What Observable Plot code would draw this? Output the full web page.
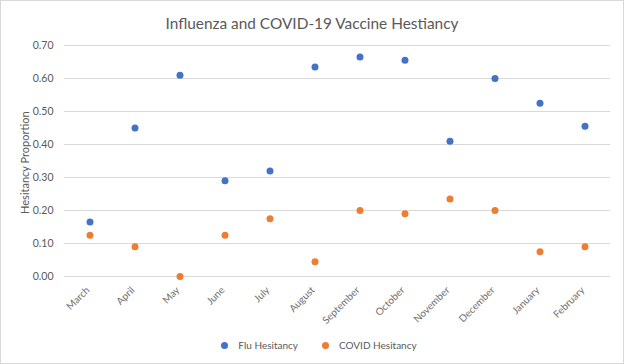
<!DOCTYPE html>
<html>
<head>
<meta charset="utf-8">
<script src="https://cdn.jsdelivr.net/npm/d3@7"></script>
<script src="https://cdn.jsdelivr.net/npm/@observablehq/plot@0.6"></script>
<style>
  html, body { margin: 0; padding: 0; background: #fff; }
  #chart { width: 624px; height: 364px; box-sizing: border-box; border: 1px solid #d9d9d9; position: relative; font-family: Lato, "Open Sans", sans-serif; color: #595959; overflow: hidden; }
  #title { height: 37px; line-height: 44px; text-align: center; font-size: 15.4px; color: #595959; }
  #legend { display: flex; justify-content: center; gap: 24px; font-size: 10px; color: #595959; margin-top: 11px; padding-left: 14px; }
  .item { display: flex; align-items: center; gap: 10px; }
  .sw { width: 7px; height: 7px; border-radius: 50%; display: inline-block; }
</style>
</head>
<body>
<div id="chart">
  <div id="title">Influenza and COVID-19 Vaccine Hestiancy</div>
  <div id="plot"></div>
  <div id="legend"></div>
</div>
<script>
const months = ["March","April","May","June","July","August","September","October","November","December","January","February"];
const fluValues = [0.165, 0.45, 0.61, 0.29, 0.32, 0.635, 0.665, 0.655, 0.41, 0.60, 0.525, 0.455];
const covidValues = [0.125, 0.09, 0.0, 0.125, 0.175, 0.045, 0.20, 0.19, 0.235, 0.20, 0.075, 0.09];
const seriesNames = ["Flu Hesitancy", "COVID Hesitancy"];
const seriesColors = ["#4472C4", "#ED7D31"];
const yTicks = [0, 0.1, 0.2, 0.3, 0.4, 0.5, 0.6, 0.7];
const yLabel = "Hesitancy Proportion";

const data = [];
months.forEach((m, i) => {
  data.push({month: m, value: fluValues[i], series: seriesNames[0]});
  data.push({month: m, value: covidValues[i], series: seriesNames[1]});
});

const plot = Plot.plot({
  width: 622,
  height: 290,
  marginLeft: 63,
  marginRight: 13,
  marginTop: 7,
  marginBottom: 52,
  style: { fontFamily: "Lato, 'Open Sans', sans-serif", fontSize: "10.5px", color: "#595959", background: "transparent" },
  x: { type: "band", domain: months, padding: 0 },
  y: { domain: [0, 0.7], ticks: yTicks },
  color: { domain: seriesNames, range: seriesColors },
  marks: [
    Plot.ruleY(yTicks, { stroke: "#d9d9d9", strokeWidth: 1 }),
    Plot.axisY({ ticks: yTicks, tickFormat: d3.format(".2f"), tickSize: 0, tickPadding: 11, label: null }),
    Plot.axisX({ tickRotate: -45, tickSize: 0, tickPadding: 12, dx: -2, fontSize: 10, fill: "#6f6f6f", label: null }),
    Plot.text([yLabel], { frameAnchor: "left", y: () => 0.345, rotate: -90, textAnchor: "middle", dx: -39, text: d => d, fill: "#595959", fontSize: 11 }),
    Plot.dot(data, { x: "month", y: "value", fill: "series", r: 3.5, stroke: "none" })
  ]
});
document.getElementById("plot").appendChild(plot);

const legend = document.getElementById("legend");
seriesNames.forEach((name, i) => {
  const item = document.createElement("div");
  item.className = "item";
  const sw = document.createElement("span");
  sw.className = "sw";
  sw.style.background = seriesColors[i];
  const t = document.createElement("span");
  t.textContent = name;
  item.appendChild(sw);
  item.appendChild(t);
  legend.appendChild(item);
});
</script>
</body>
</html>
